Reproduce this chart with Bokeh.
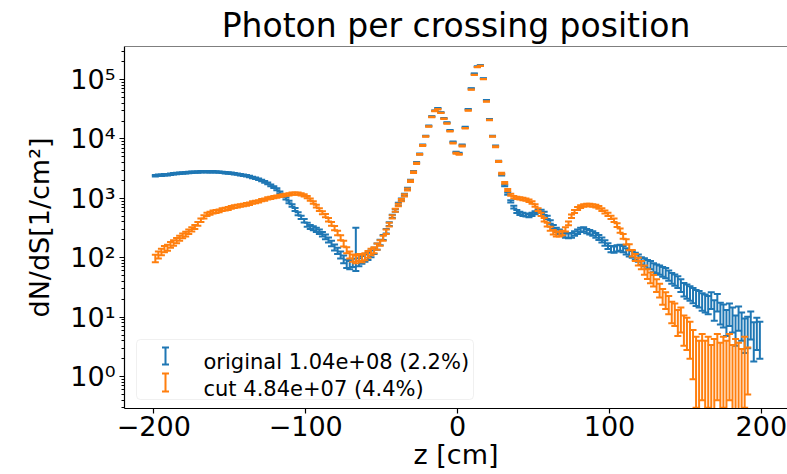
import numpy as np
from bokeh.plotting import figure
from bokeh.models import ColumnDataSource, Range1d, FixedTicker, Span, BoxAnnotation, Label
from bokeh.embed import file_html
from bokeh.resources import INLINE

# ---------------- data ----------------
title_text = "Photon per crossing position"
x_label = "z [cm]"
y_label = "dN/dS[1/cm²]"
legend_labels = ["original 1.04e+08 (2.2%)", "cut 4.84e+07 (4.4%)"]
x_ticks = [-200, -100, 0, 100, 200]
x_tick_labels = ["−200", "−100", "0", "100", "200"]
y_ticks = [1, 10, 100, 1000, 10000, 100000]
y_tick_labels = ["10⁰", "10¹", "10²", "10³", "10⁴", "10⁵"]

# bin centres (2 cm bins from -200 to 200)
z_centers = list(range(-199, 200, 2))

orig_vals = [
    2400, 2450, 2450, 2500, 2500, 2550, 2600, 2620, 2650, 2680,
    2700, 2730, 2750, 2760, 2780, 2800, 2820, 2800, 2810, 2800,
    2790, 2770, 2740, 2700, 2680, 2650, 2600, 2560, 2500, 2450,
    2400, 2330, 2250, 2180, 2100, 2000, 1900, 1780, 1660, 1550,
    1420, 1260, 1120, 1000, 870, 760, 650, 550, 480, 420,
    360, 330, 315, 295, 275, 250, 225, 200, 175, 150,
    132, 112, 95, 80, 76, 83, 190, 85, 93, 100,
    107, 117, 132, 155, 182, 220, 280, 370, 500, 630,
    800, 950, 1150, 1450, 2000, 2800, 4000, 5600, 7900, 11200,
    16600, 24000, 30000, 33000, 28000, 22400, 19000, 14000, 8900, 6000,
    5750, 7900, 15800, 31600, 71000, 126000, 166000, 174000, 105000, 45000,
    21400, 11200, 7600, 4200, 2500, 1660, 1200, 890, 710, 600,
    560, 540, 525, 515, 540, 575, 600, 605, 560, 480,
    400, 330, 295, 275, 257, 240, 234, 240, 257, 275,
    295, 302, 282, 270, 257, 240, 220, 200, 178, 158,
    141, 138, 145, 148, 141, 129, 120, 115, 107, 100,
    89, 85, 79, 76, 69, 66, 63, 59, 56, 51,
    46, 43, 40, 35, 30, 28, 26, 24, 22, 21,
    19, 18, 17, 20, 14, 18.5, 12.5, 11.5, 9, 12,
    10, 7, 10.5, 8, 6, 6.6, 8.3, 5, 6.3, 5.2,
]
orig_errs = [
    69, 70, 70, 71, 71, 71, 72, 72, 73, 73,
    73, 74, 74, 74, 75, 75, 75, 75, 75, 75,
    75, 74, 74, 73, 73, 73, 72, 72, 71, 70,
    69, 68, 67, 66, 65, 63, 62, 60, 58, 56,
    53, 50, 47, 45, 42, 39, 36, 33, 31, 29,
    27, 26, 25, 24, 23, 22, 21, 20, 19, 17,
    16, 15, 14, 13, 12, 13, 130, 13, 14, 14,
    15, 15, 16, 18, 19, 21, 24, 27, 32, 35,
    40, 44, 48, 54, 63, 75, 89, 106, 126, 150,
    182, 219, 245, 257, 237, 212, 195, 167, 133, 110,
    107, 126, 178, 251, 377, 502, 576, 590, 458, 300,
    207, 150, 123, 92, 71, 58, 49, 42, 38, 35,
    33, 33, 32, 32, 33, 34, 35, 35, 33, 31,
    28, 26, 24, 23, 23, 22, 22, 22, 23, 23,
    24, 25, 24, 23, 23, 22, 21, 20, 19, 18,
    17, 17, 17, 17, 17, 16, 15, 15, 15, 14,
    13, 13, 13, 12, 12, 11, 11, 11, 11, 10,
    9.6, 9.3, 8.9, 8.4, 7.7, 7.5, 7.2, 6.9, 6.6, 6.5,
    6.2, 6.0, 5.8, 6.3, 5.3, 6.1, 5.0, 4.8, 4.2, 4.9,
    4.5, 3.7, 4.6, 4.0, 3.5, 3.6, 4.1, 3.2, 3.5, 3.2,
]
nan = float("nan")
cut_vals = [
    98, 112, 126, 141, 148, 166, 178, 195, 214, 234,
    251, 275, 302, 331, 372, 427, 490, 537, 562, 589,
    603, 617, 646, 661, 676, 708, 724, 741, 759, 776,
    794, 813, 851, 871, 891, 933, 955, 1000, 1020, 1050,
    1070, 1100, 1120, 1150, 1170, 1200, 1200, 1200, 1170, 1120,
    1050, 955, 851, 741, 646, 575, 513, 437, 372, 316,
    263, 219, 174, 135, 112, 100, 95, 102, 98, 105,
    115, 126, 135, 155, 178, 214, 275, 363, 490, 631,
    776, 933, 1120, 1410, 1950, 2750, 3890, 5500, 7760, 11000,
    16200, 23400, 29500, 31600, 27500, 21900, 18200, 13500, 8500, 5750,
    5500, 7600, 15100, 30200, 67600, 120000, 162000, 170000, 102000, 42700,
    20900, 11000, 7400, 4170, 2630, 1820, 1380, 1150, 1050, 1020,
    1000, 977, 955, 912, 851, 759, 646, 537, 437, 363,
    309, 269, 251, 251, 263, 302, 380, 501, 603, 676,
    724, 759, 776, 776, 759, 741, 708, 646, 589, 537,
    479, 427, 355, 288, 229, 186, 151, 120, 102, 87,
    76, 63, 54, 47, 42, 35, 29, 23, 20, 17,
    13, 12, 9, 10, 7, 6.3, 5.2, 3.5, 2.5, 2.0,
    2.8, 2.0, 2.5, 1.6, 2.2, 2.8, 1.8, 2.5, 2.0, 2.8,
    1.6, 2.2, 1.8, 1.3, 2.5, 1.8, nan, nan, nan, nan,
]
cut_errs = [
    14, 15, 16, 17, 17, 18, 19, 20, 21, 22,
    22, 23, 25, 26, 27, 29, 31, 33, 34, 34,
    35, 35, 36, 36, 37, 38, 38, 38, 39, 39,
    40, 40, 41, 42, 42, 43, 44, 45, 45, 46,
    46, 47, 47, 48, 48, 49, 49, 49, 48, 47,
    46, 44, 41, 38, 36, 34, 32, 30, 27, 25,
    23, 21, 19, 16, 15, 14, 14, 14, 14, 14,
    15, 16, 16, 18, 19, 21, 23, 27, 31, 36,
    39, 43, 47, 53, 62, 74, 88, 105, 125, 148,
    180, 216, 243, 251, 235, 209, 191, 164, 130, 107,
    105, 123, 174, 246, 368, 490, 569, 583, 452, 292,
    204, 148, 122, 91, 73, 60, 53, 48, 46, 45,
    45, 44, 44, 43, 41, 39, 36, 33, 30, 27,
    25, 23, 22, 22, 23, 25, 28, 32, 35, 37,
    38, 39, 39, 39, 39, 38, 38, 36, 34, 33,
    31, 29, 27, 24, 21, 19, 17, 15, 14, 13,
    12, 11, 10, 9.7, 9.2, 8.4, 7.6, 6.8, 6.3, 5.8,
    5.1, 4.9, 4.2, 4.5, 3.7, 3.5, 3.2, 2.6, 2.2, 2.0,
    2.4, 2.0, 2.2, 1.8, 2.1, 2.4, 1.9, 2.2, 2.0, 2.4,
    1.8, 2.1, 1.9, 1.6, 2.2, 1.3, nan, nan, nan, nan,
]

# ---------------- style ----------------
FONT = "DejaVu Sans"
C_ORIG = "#1f77b4"
C_CUT = "#ff7f0e"
Y_MIN, Y_MAX = 0.29, 3.6e5
X_MIN, X_MAX = -219.3, 217.2
LW = 2.0
CAP = 7


def make_source(z, vals, errs):
    z = np.asarray(z, float)
    v = np.asarray(vals, float)
    e = np.asarray(errs, float)
    ok = np.isfinite(v) & (v > 0)
    z, v, e = z[ok], v[ok], e[ok]
    lo = v - e
    lo = np.where(lo > 0, lo, Y_MIN * 1e-4)  # non-positive lower ends fall off the log axis
    hi = v + e
    return ColumnDataSource(dict(z=z, v=v, lo=lo, hi=hi))


p = figure(width=787, height=474, y_axis_type="log",
           x_range=Range1d(X_MIN, X_MAX), y_range=Range1d(Y_MIN, Y_MAX),
           output_backend="svg", toolbar_location=None,
           min_border_left=124, min_border_right=0, min_border_top=46, min_border_bottom=66)

p.background_fill_color = "white"
p.border_fill_color = "white"
p.outline_line_color = None
p.xgrid.visible = False
p.ygrid.visible = False

p.title.text = title_text
p.title.align = "center"
p.title.text_font = FONT
p.title.text_font_size = "33px"
p.title.text_font_style = "normal"
p.title.text_color = "black"
p.title.standoff = 4

for ax in (p.xaxis[0], p.yaxis[0]):
    ax.axis_line_color = "black"
    ax.axis_line_width = 1.2
    ax.major_tick_line_color = "black"
    ax.major_tick_line_width = 1.2
    ax.major_tick_in = 0
    ax.major_tick_out = 5
    ax.minor_tick_line_color = "black"
    ax.minor_tick_line_width = 1.0
    ax.minor_tick_in = 0
    ax.minor_tick_out = 3
    ax.major_label_text_font = FONT
    ax.major_label_text_font_size = "27px"
    ax.major_label_text_color = "black"
    ax.axis_label_text_font = FONT
    ax.axis_label_text_font_size = "27px"
    ax.axis_label_text_font_style = "normal"
    ax.axis_label_text_color = "black"

p.xaxis.axis_label = x_label
p.yaxis.axis_label = y_label
p.xaxis.ticker = FixedTicker(ticks=x_ticks)
p.xaxis.major_label_overrides = {t: s for t, s in zip(x_ticks, x_tick_labels)}
p.xaxis.minor_tick_line_color = None
p.xaxis.major_label_standoff = 2
p.xaxis.axis_label_standoff = 0

minor = [m * 10.0 ** k for k in range(-1, 6) for m in range(2, 10)]
p.yaxis.ticker = FixedTicker(ticks=y_ticks, minor_ticks=minor)
p.yaxis.major_label_overrides = {t: s for t, s in zip(y_ticks, y_tick_labels)}
p.yaxis.major_label_standoff = 4
p.yaxis.axis_label_standoff = 12

# top spine
p.add_layout(Span(location=Y_MAX, dimension="width", line_color="black", line_width=1.2))

# error bars
for vals, errs, color in ((orig_vals, orig_errs, C_ORIG), (cut_vals, cut_errs, C_CUT)):
    src = make_source(z_centers, vals, errs)
    p.segment(x0="z", y0="lo", x1="z", y1="hi", source=src, line_color=color, line_width=LW)
    p.scatter(x="z", y="lo", source=src, marker="dash", size=CAP, line_color=color, line_width=LW)
    p.scatter(x="z", y="hi", source=src, marker="dash", size=CAP, line_color=color, line_width=LW)

# legend (frame-relative screen px)
box = BoxAnnotation(left=12, right=349, bottom=9, top=69,
                    left_units="screen", right_units="screen",
                    bottom_units="screen", top_units="screen",
                    fill_color="white", fill_alpha=0.8,
                    line_color="#cccccc", line_width=1)
try:
    box.border_radius = 4
except Exception:
    pass
p.add_layout(box)

for (ybot, ytop, ytext), color, text in zip(((44, 61, 47), (17, 35, 20)), (C_ORIG, C_CUT), legend_labels):
    p.add_layout(BoxAnnotation(left=40, right=42, bottom=ybot, top=ytop,
                               left_units="screen", right_units="screen",
                               bottom_units="screen", top_units="screen",
                               fill_color=color, fill_alpha=1, line_color=None))
    for yc in (ybot, ytop):
        p.add_layout(BoxAnnotation(left=37.5, right=44.5, bottom=yc - 1, top=yc + 1,
                                   left_units="screen", right_units="screen",
                                   bottom_units="screen", top_units="screen",
                                   fill_color=color, fill_alpha=1, line_color=None))
    p.add_layout(Label(x=79, y=ytext, x_units="screen", y_units="screen", text=text,
                       text_font=FONT, text_font_size="21px", text_color="black",
                       text_baseline="alphabetic", text_align="left"))

open("out.html", "w").write(file_html(p, INLINE, title="plot"))
